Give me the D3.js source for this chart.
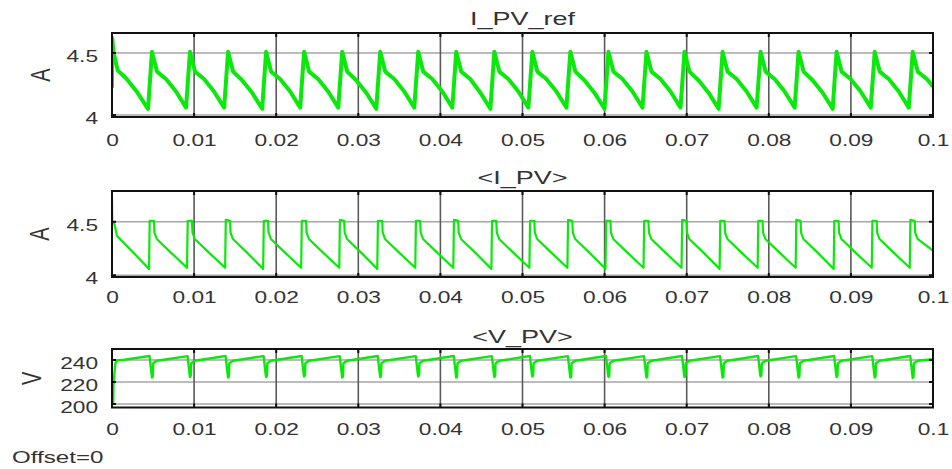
<!DOCTYPE html>
<html>
<head>
<meta charset="utf-8">
<script src="https://cdn.jsdelivr.net/npm/d3@7"></script>
<style>
	body { margin: 0; background: #fff; }
	svg text { font-family: "Liberation Sans", Arial, sans-serif; fill: #333; }
</style>
</head>
<body>
<svg id="chart" width="952" height="469"></svg>
<script>

// x axis ticks (time, s)
const xTicks = [0, 0.01, 0.02, 0.03, 0.04, 0.05, 0.06, 0.07, 0.08, 0.09, 0.1];
const xTickLabels = ['0', '0.01', '0.02', '0.03', '0.04', '0.05', '0.06', '0.07', '0.08', '0.09', '0.1'];

// y axis ticks per scope
const iRefTicks = [4, 4.5];
const iRefTickLabels = ['4', '4.5'];
const iPvTicks = [4, 4.5];
const iPvTickLabels = ['4', '4.5'];
const vPvTicks = [200, 220, 240];
const vPvTickLabels = ['200', '220', '240'];

// I_PV_ref [t, A]
const iPvRef = [
	[0, 4.22], [0.00003, 4.62], [0.0002, 4.50], [0.0007, 4.36], [0.0018, 4.29], [0.0030, 4.19],
	[0.00439, 4.05], [0.00487, 4.51], [0.00548, 4.35], [0.00658, 4.29], [0.00780, 4.19],
	[0.00902, 4.06], [0.00950, 4.51], [0.01011, 4.35], [0.01121, 4.29], [0.01243, 4.19],
	[0.01366, 4.06], [0.01414, 4.51], [0.01475, 4.35], [0.01585, 4.28], [0.01707, 4.18],
	[0.01829, 4.05], [0.01877, 4.51], [0.01938, 4.35], [0.02048, 4.29], [0.02170, 4.19],
	[0.02292, 4.06], [0.02340, 4.51], [0.02401, 4.35], [0.02511, 4.29], [0.02633, 4.19],
	[0.02756, 4.06], [0.02804, 4.51], [0.02865, 4.35], [0.02975, 4.28], [0.03097, 4.18],
	[0.03219, 4.05], [0.03267, 4.51], [0.03328, 4.35], [0.03438, 4.29], [0.03560, 4.19],
	[0.03682, 4.06], [0.03730, 4.51], [0.03791, 4.35], [0.03901, 4.29], [0.04023, 4.19],
	[0.04145, 4.06], [0.04193, 4.51], [0.04254, 4.35], [0.04364, 4.29], [0.04486, 4.18],
	[0.04609, 4.05], [0.04657, 4.51], [0.04718, 4.35], [0.04828, 4.29], [0.04950, 4.19],
	[0.05072, 4.06], [0.05120, 4.51], [0.05181, 4.35], [0.05291, 4.29], [0.05413, 4.19],
	[0.05535, 4.06], [0.05583, 4.51], [0.05644, 4.35], [0.05754, 4.28], [0.05876, 4.18],
	[0.05999, 4.05], [0.06047, 4.51], [0.06108, 4.35], [0.06218, 4.29], [0.06340, 4.19],
	[0.06462, 4.06], [0.06510, 4.51], [0.06571, 4.35], [0.06681, 4.29], [0.06803, 4.19],
	[0.06925, 4.06], [0.06973, 4.51], [0.07034, 4.35], [0.07144, 4.28], [0.07266, 4.18],
	[0.07389, 4.05], [0.07437, 4.51], [0.07498, 4.35], [0.07608, 4.29], [0.07730, 4.19],
	[0.07852, 4.06], [0.07900, 4.51], [0.07961, 4.35], [0.08071, 4.29], [0.08193, 4.19],
	[0.08315, 4.06], [0.08363, 4.51], [0.08424, 4.35], [0.08534, 4.28], [0.08656, 4.18],
	[0.08778, 4.05], [0.08826, 4.51], [0.08887, 4.35], [0.08997, 4.29], [0.09119, 4.19],
	[0.09242, 4.06], [0.09290, 4.51], [0.09351, 4.35], [0.09461, 4.29], [0.09583, 4.19],
	[0.09705, 4.06], [0.09753, 4.51], [0.09814, 4.35], [0.09924, 4.29], [0.1, 4.23]
];

// <I_PV> [t, A]
const iPv = [
	[0, 4.72], [0.00003, 4.50], [0.0003, 4.48], [0.0006, 4.37], [0.0025, 4.22],
	[0.00451, 4.06], [0.00459, 4.51], [0.00511, 4.51], [0.00517, 4.40], [0.00546, 4.34], [0.00721, 4.21],
	[0.00914, 4.07], [0.00922, 4.51], [0.00974, 4.51], [0.00980, 4.40], [0.01009, 4.34], [0.01184, 4.21],
	[0.01378, 4.07], [0.01386, 4.52], [0.01438, 4.51], [0.01444, 4.40], [0.01473, 4.34], [0.01648, 4.21],
	[0.01841, 4.06], [0.01849, 4.51], [0.01901, 4.51], [0.01907, 4.40], [0.01936, 4.34], [0.02111, 4.21],
	[0.02304, 4.07], [0.02312, 4.51], [0.02364, 4.51], [0.02370, 4.40], [0.02399, 4.34], [0.02574, 4.21],
	[0.02768, 4.07], [0.02776, 4.52], [0.02828, 4.51], [0.02834, 4.40], [0.02863, 4.34], [0.03038, 4.21],
	[0.03231, 4.06], [0.03239, 4.51], [0.03291, 4.51], [0.03297, 4.40], [0.03326, 4.34], [0.03501, 4.21],
	[0.03694, 4.07], [0.03702, 4.51], [0.03754, 4.51], [0.03760, 4.40], [0.03789, 4.34], [0.03964, 4.21],
	[0.04157, 4.07], [0.04165, 4.52], [0.04217, 4.51], [0.04223, 4.40], [0.04252, 4.34], [0.04427, 4.21],
	[0.04621, 4.06], [0.04629, 4.51], [0.04681, 4.51], [0.04687, 4.40], [0.04716, 4.34], [0.04891, 4.21],
	[0.05084, 4.07], [0.05092, 4.51], [0.05144, 4.51], [0.05150, 4.40], [0.05179, 4.34], [0.05354, 4.21],
	[0.05547, 4.07], [0.05555, 4.52], [0.05607, 4.51], [0.05613, 4.40], [0.05642, 4.34], [0.05817, 4.21],
	[0.06011, 4.06], [0.06019, 4.51], [0.06071, 4.51], [0.06077, 4.40], [0.06106, 4.34], [0.06281, 4.21],
	[0.06474, 4.07], [0.06482, 4.51], [0.06534, 4.51], [0.06540, 4.40], [0.06569, 4.34], [0.06744, 4.21],
	[0.06937, 4.07], [0.06945, 4.52], [0.06997, 4.51], [0.07003, 4.40], [0.07032, 4.34], [0.07207, 4.21],
	[0.07401, 4.06], [0.07409, 4.51], [0.07461, 4.51], [0.07467, 4.40], [0.07496, 4.34], [0.07671, 4.21],
	[0.07864, 4.07], [0.07872, 4.51], [0.07924, 4.51], [0.07930, 4.40], [0.07959, 4.34], [0.08134, 4.21],
	[0.08327, 4.07], [0.08335, 4.52], [0.08387, 4.51], [0.08393, 4.40], [0.08422, 4.34], [0.08597, 4.21],
	[0.08790, 4.06], [0.08798, 4.51], [0.08850, 4.51], [0.08856, 4.40], [0.08885, 4.34], [0.09060, 4.21],
	[0.09254, 4.07], [0.09262, 4.51], [0.09314, 4.51], [0.09320, 4.40], [0.09349, 4.34], [0.09524, 4.21],
	[0.09717, 4.07], [0.09725, 4.52], [0.09777, 4.51], [0.09783, 4.40], [0.09812, 4.34], [0.1, 4.23]
];

// <V_PV> [t, V]
const vPv = [
	[0, 200], [0.00015, 201], [0.00018, 217], [0.0004, 237], [0.0006, 239.5], [0.0015, 240.2],
	[0.00457, 243.6], [0.00482, 227], [0.00487, 224], [0.00497, 225], [0.00502, 237], [0.00547, 239.3],
	[0.00920, 243.5], [0.00945, 227], [0.00950, 224.5], [0.00960, 225.5], [0.00965, 237], [0.01010, 239.3],
	[0.01384, 243.6], [0.01409, 227], [0.01414, 224], [0.01424, 225], [0.01429, 237], [0.01474, 239.3],
	[0.01847, 243.5], [0.01872, 227], [0.01877, 224.5], [0.01887, 225.5], [0.01892, 237], [0.01937, 239.3],
	[0.02310, 243.6], [0.02335, 227], [0.02340, 225], [0.02350, 226], [0.02355, 237], [0.02400, 239.3],
	[0.02774, 243.5], [0.02799, 227], [0.02804, 224], [0.02814, 225], [0.02819, 237], [0.02864, 239.3],
	[0.03237, 243.6], [0.03262, 227], [0.03267, 224.5], [0.03277, 225.5], [0.03282, 237], [0.03327, 239.3],
	[0.03700, 243.5], [0.03725, 227], [0.03730, 225], [0.03740, 226], [0.03745, 237], [0.03790, 239.3],
	[0.04163, 243.6], [0.04188, 227], [0.04193, 224], [0.04203, 225], [0.04208, 237], [0.04253, 239.3],
	[0.04627, 243.5], [0.04652, 227], [0.04657, 224.5], [0.04667, 225.5], [0.04672, 237], [0.04717, 239.3],
	[0.05090, 243.6], [0.05115, 227], [0.05120, 225], [0.05130, 226], [0.05135, 237], [0.05180, 239.3],
	[0.05553, 243.5], [0.05578, 227], [0.05583, 224], [0.05593, 225], [0.05598, 237], [0.05643, 239.3],
	[0.06017, 243.6], [0.06042, 227], [0.06047, 224.5], [0.06057, 225.5], [0.06062, 237], [0.06107, 239.3],
	[0.06480, 243.5], [0.06505, 227], [0.06510, 224], [0.06520, 225], [0.06525, 237], [0.06570, 239.3],
	[0.06943, 243.6], [0.06968, 227], [0.06973, 224.5], [0.06983, 225.5], [0.06988, 237], [0.07033, 239.3],
	[0.07407, 243.5], [0.07432, 227], [0.07437, 224], [0.07447, 225], [0.07452, 237], [0.07497, 239.3],
	[0.07870, 243.6], [0.07895, 227], [0.07900, 225], [0.07910, 226], [0.07915, 237], [0.07960, 239.3],
	[0.08333, 243.5], [0.08358, 227], [0.08363, 224], [0.08373, 225], [0.08378, 237], [0.08423, 239.3],
	[0.08796, 243.6], [0.08821, 227], [0.08826, 224.5], [0.08836, 225.5], [0.08841, 237], [0.08886, 239.3],
	[0.09260, 243.5], [0.09285, 227], [0.09290, 224], [0.09300, 225], [0.09305, 237], [0.09350, 239.3],
	[0.09723, 243.6], [0.09748, 227], [0.09753, 223.5], [0.09763, 224.5], [0.09768, 237], [0.09813, 239.3],
	[0.1, 240.6]
];


const svg = d3.select('#chart');
const left = 112, right = 933;
const SX = 1.42;   // the source picture is stretched sideways, so stretch the text too
const green = '#0be80b';

const x = d3.scaleLinear().domain([0, 0.1]).range([left, right]);

const panels = [
	{ title: 'I_PV_ref', unit: 'A', data: iPvRef, ticks: iRefTicks, tickLabels: iRefTickLabels,
		domain: [3.984, 4.661], top: 33, bottom: 117, lw: 4, titleY: 25, labelGap: 29.5, unitX: 40 },
	{ title: '<I_PV>', unit: 'A', data: iPv, ticks: iPvTicks, tickLabels: iPvTickLabels,
		domain: [3.984, 4.789], top: 191, bottom: 277, lw: 2.2, titleY: 183.5, labelGap: 26.5, unitX: 39 },
	{ title: '<V_PV>', unit: 'V', data: vPv, ticks: vPvTicks, tickLabels: vPvTickLabels,
		domain: [196.7, 250], top: 349, bottom: 407.5, lw: 2.4, titleY: 342.5, labelGap: 27.5, unitX: 31 }
];

panels.forEach((p, i) => drawPanel(p, i));

svg.append('text')
	.attr('transform', `translate(12,463) scale(${SX},1)`)
	.style('font-size', '17px')
	.text('Offset=0');


function drawPanel(p, i){

	const y = d3.scaleLinear().domain(p.domain).range([p.bottom, p.top]);
	const g = svg.append('g').attr('class', 'scope');

	g.append('clipPath').attr('id', 'clip' + i)
		.append('rect')
		.attr('x', left).attr('y', p.top)
		.attr('width', right - left).attr('height', p.bottom - p.top);

	// grid
	g.selectAll('.hgrid')
		.data(p.ticks)
		.join('line')
		.attr('x1', left).attr('x2', right)
		.attr('y1', d => y(d)).attr('y2', d => y(d))
		.attr('stroke', '#a6a6a6')
		.attr('stroke-width', 1.5);
	g.selectAll('.vgrid')
		.data(xTicks.slice(1, -1))
		.join('line')
		.attr('x1', d => x(d)).attr('x2', d => x(d))
		.attr('y1', p.top).attr('y2', p.bottom)
		.attr('stroke', '#5a5a5a')
		.attr('stroke-width', 1.6);

	// trace
	const line = d3.line()
		.x(d => x(d[0]))
		.y(d => y(d[1]));
	g.append('path')
		.datum(p.data)
		.attr('clip-path', `url(#clip${i})`)
		.attr('d', line)
		.attr('fill', 'none')
		.attr('stroke', green)
		.attr('stroke-width', p.lw)
		.attr('stroke-linejoin', 'round');

	// box + inner ticks
	g.append('rect')
		.attr('x', left).attr('y', p.top)
		.attr('width', right - left).attr('height', p.bottom - p.top)
		.attr('fill', 'none')
		.attr('stroke', '#111')
		.attr('stroke-width', 2);
	g.selectAll('.xt')
		.data(xTicks)
		.join('path')
		.attr('d', d => `M${x(d)},${p.top}v4M${x(d)},${p.bottom}v-4`)
		.attr('stroke', '#111').attr('stroke-width', 2);
	g.selectAll('.yt')
		.data(p.ticks)
		.join('path')
		.attr('d', d => `M${left},${y(d)}h4M${right},${y(d)}h-4`)
		.attr('stroke', '#111').attr('stroke-width', 2);

	// tick labels
	const xAxis = g.append('g')
		.attr('transform', `translate(0,${p.bottom})`)
		.call(d3.axisBottom(x).tickValues(xTicks).tickSize(0).tickFormat((d, k) => xTickLabels[k]));
	xAxis.select('.domain').remove();
	xAxis.selectAll('text')
		.attr('y', p.labelGap).attr('dy', 0)
		.attr('fill', '#333')
		.attr('transform', `scale(${SX},1)`)
		.style('font-size', '16px');

	const yAxis = g.append('g')
		.attr('transform', `translate(${left},0)`)
		.call(d3.axisLeft(y).tickValues(p.ticks).tickSize(0).tickFormat((d, k) => p.tickLabels[k]));
	yAxis.select('.domain').remove();
	yAxis.selectAll('text')
		.attr('x', -14 / SX).attr('y', 3.5)
		.attr('fill', '#333')
		.attr('transform', `scale(${SX},1)`)
		.style('font-size', '16px');

	// title and unit
	g.append('text')
		.attr('transform', `translate(${(left + right) / 2},${p.titleY}) scale(${SX},1)`)
		.attr('text-anchor', 'middle')
		.style('font-size', '19px')
		.text(p.title);
	g.append('text')
		.attr('transform', `translate(${p.unitX},${(p.top + p.bottom) / 2}) scale(${SX},1) rotate(-90)`)
		.attr('text-anchor', 'middle')
		.attr('dy', '0.35em')
		.style('font-size', '20px')
		.text(p.unit);
}
</script>
</body>
</html>
